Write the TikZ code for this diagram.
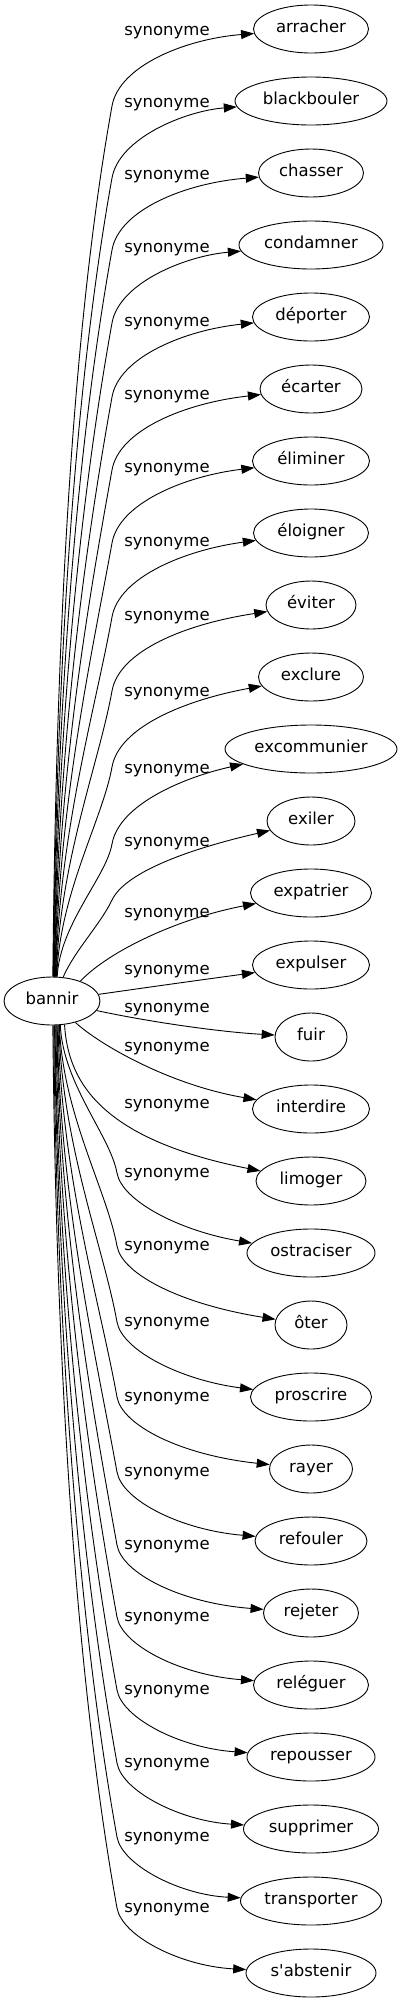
\documentclass[tikz,border=0pt]{standalone}
\usepackage{fontspec}
\setmainfont{DejaVu Sans}
\usetikzlibrary{arrows.meta,shapes.geometric}
\tikzset{
  word/.style={draw, ellipse, line width=0.9pt, minimum height=48pt, inner xsep=2pt, inner ysep=2pt,
    text height=0.85em, text depth=0.15em, font=\fontsize{16.5}{19.8}\selectfont},
  rel/.style={font=\fontsize{16.5}{19.8}\selectfont, inner sep=0pt, anchor=base},
  syn/.style={line width=0.9pt, -{Triangle[length=13pt,width=9pt]}},
}
\begin{document}
\begin{tikzpicture}[x=1pt,y=-1pt]
\useasboundingbox (0,0) rectangle (402,2003);
\node[word, minimum width=96pt] (bannir) at (52,1001) {bannir};
\foreach \i/\w/\txt in {0/115/arracher, 1/152/blackbouler, 2/105/chasser, 3/144/condamner,
  4/117/déporter, 5/102/écarter, 6/117/éliminer, 7/115/éloigner, 8/90/éviter, 9/105/exclure,
  10/172/excommunier, 11/88/exiler, 12/121/expatrier, 13/117/expulser, 14/72/fuir,
  15/117/interdire, 16/110/limoger, 17/128/ostraciser, 18/72/ôter, 19/121/proscrire,
  20/83/rayer, 21/112/refouler, 22/95/rejeter, 23/115/reléguer, 24/128/repousser,
  25/135/supprimer, 26/141/transporter, 27/130/{s\textquotesingle abstenir}}
  {\node[word, minimum width=\w pt] (n\i) at (311, 29+72*\i) {\txt};}
\foreach \i/\yl in {0/31, 1/103, 2/175, 3/248, 4/322, 5/395, 6/468, 7/542, 8/616, 9/692,
  10/769, 11/842, 12/913, 13/970, 14/1008, 15/1047, 16/1104, 17/1173, 18/1246, 19/1322,
  20/1397, 21/1472, 22/1545, 23/1617, 24/1690, 25/1763, 26/1837, 27/1908}
  {\node[rel] (l\i) at (167, \yl+4.6) {synonyme};}
% upper edges
\foreach \i/\yl/\dx in {0/31/1, 1/103/1.4, 2/175/1.8, 3/248/2.2, 4/322/2.6, 5/395/3,
  6/468/3.4, 7/542/3.8, 8/616/4.2, 9/692/4.6, 10/769/5}{
  \pgfmathsetmacro\hh{24*sqrt(1-(\dx/48)^2)}
  \pgfmathsetmacro\sy{1001-\hh}
  \pgfmathtruncatemacro\ang{atan(\hh/\dx)+0.5}
  \pgfmathsetmacro\ky{\yl+75}
  \pgfmathsetmacro\D{\sy-\ky}
  \pgfmathsetmacro\ax{55+\dx}
  \pgfmathsetmacro\ay{\sy-0.4*\D}
  \pgfmathsetmacro\bx{112-0.045*\D}
  \pgfmathsetmacro\by{\ky+0.25*\D}
  \pgfmathsetmacro\cy{\yl+35}
  \pgfmathsetmacro\ey{\yl+8}
  \draw[syn] (bannir.\ang) .. controls (\ax,\ay) and (\bx,\by) .. (112,\ky)
     .. controls (119,\cy) and (185,\ey) .. (n\i);
}
% lower edges
\foreach \i/\yl/\dx in {17/1173/8, 18/1246/7.3, 19/1322/6.6, 20/1397/5.9, 21/1472/5.2,
  22/1545/4.5, 23/1617/3.8, 24/1690/3.1, 25/1763/2.4, 26/1837/1.7, 27/1908/1}{
  \pgfmathsetmacro\hh{24*sqrt(1-(\dx/48)^2)}
  \pgfmathsetmacro\sy{1001+\hh}
  \pgfmathtruncatemacro\ang{-atan(\hh/\dx)-0.5}
  \pgfmathsetmacro\D{\yl-\sy}
  \pgfmathsetmacro\ax{55+\dx}
  \pgfmathsetmacro\ay{\sy+0.4*\D}
  \pgfmathsetmacro\bx{117-0.045*\D}
  \pgfmathsetmacro\by{\yl-0.25*\D}
  \pgfmathsetmacro\cy{\yl+28}
  \pgfmathsetmacro\ey{\yl+58}
  \draw[syn] (bannir.\ang) .. controls (\ax,\ay) and (\bx,\by) .. (117,\yl)
     .. controls (122,\cy) and (180,\ey) .. (n\i);
}
% middle edges
\draw[syn] (bannir.65) .. controls (75,950) and (100,925) .. (112,900)
   .. controls (125,873) and (185,850) .. (n11);
\draw[syn] (bannir.35) .. controls (110,950) and (180,918) .. (n12);
\draw[syn] (bannir) .. controls (150,987) and (200,980) .. (n13);
\draw[syn] (bannir) .. controls (150,1022) and (220,1032) .. (n14);
\draw[syn] (bannir) .. controls (100,1045) and (170,1085) .. (n15);
\draw[syn] (bannir.-62) .. controls (68,1085) and (105,1140) .. (n16);
\end{tikzpicture}
\end{document}
